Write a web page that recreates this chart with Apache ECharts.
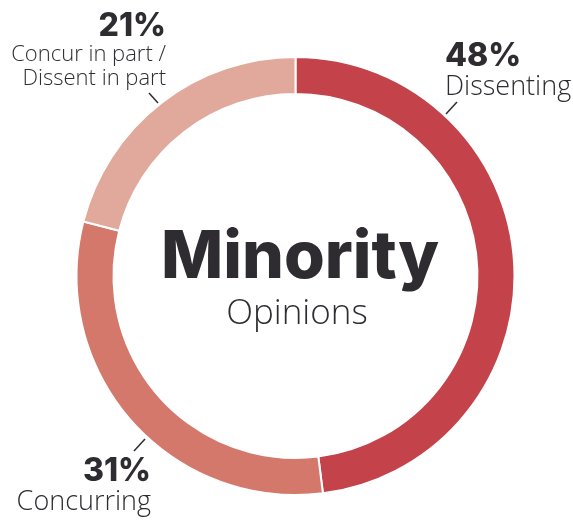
<!DOCTYPE html>
<html>
<head>
<meta charset="utf-8">
<script src="https://cdn.jsdelivr.net/npm/echarts@6/dist/echarts.min.js"></script>
<style>
  html, body { margin: 0; padding: 0; background: #fff; }
  #chart { width: 573px; height: 520px; }
</style>
</head>
<body>
<div id="chart"></div>
<script>
// Share of minority opinions by type (percent)
const categories = ['Dissenting', 'Concurring', 'Concur in part /\nDissent in part'];
const shares = [48, 31, 21];
const sliceColors = ['#C4424A', '#D4786C', '#E0A99B'];

const TEXT = '#2E2C30';
const BOLD_FONT = 'Inter';
const LIGHT_FONT = 'Open Sans';

// Where each callout sits: text anchor and the short leader stroke
const callouts = [
  { x: 445, y: 39, align: 'left',  line: [[446, 114], [457, 102]] },
  { x: 151, y: 454, align: 'right', line: [[134, 451], [145, 439]] },
  { x: 166, y: 9,  align: 'right', line: [[149, 93], [158, 103]] }
];

const chart = echarts.init(document.getElementById('chart'), null, { renderer: 'canvas' });

const data = categories.map((name, i) => ({
  name: name,
  value: shares[i],
  itemStyle: { color: sliceColors[i] },
  label: {
    formatter: (p) => '{pct|' + p.value + '%}\n{' + (i === 2 ? 'small' : 'name') + '|' + p.name + '}'
  }
}));

chart.setOption({
  animation: false,
  title: [{
    text: 'Minority',
    left: 300,
    top: 222,
    textAlign: 'center',
    padding: 0,
    textStyle: { fontFamily: BOLD_FONT, fontWeight: 800, fontSize: 66, color: TEXT, lineHeight: 72 }
  }, {
    text: 'Opinions',
    left: 297,
    top: 295,
    textAlign: 'center',
    padding: 0,
    textStyle: { fontFamily: LIGHT_FONT, fontWeight: 300, fontSize: 35, color: TEXT, lineHeight: 38 }
  }],
  series: [{
    type: 'pie',
    center: [295.5, 276],
    radius: [182, 219],
    startAngle: 90,
    clockwise: true,
    avoidLabelOverlap: false,
    itemStyle: { borderColor: '#fff', borderWidth: 2 },
    label: {
      show: true,
      position: 'outside',
      rich: {
        pct: { fontFamily: BOLD_FONT, fontWeight: 800, fontSize: 32, color: TEXT, lineHeight: 34 },
        name: { fontFamily: LIGHT_FONT, fontWeight: 300, fontSize: 27, color: TEXT, lineHeight: 28 },
        small: { fontFamily: LIGHT_FONT, fontWeight: 300, fontSize: 22, color: TEXT, lineHeight: 24 }
      }
    },
    labelLine: { show: true, lineStyle: { color: TEXT, width: 1.5 } },
    labelLayout: (params) => {
      const c = callouts[params.dataIndex];
      return {
        x: c.x,
        y: c.y,
        align: c.align,
        verticalAlign: 'top',
        labelLinePoints: [c.line[0], c.line[1], c.line[1]]
      };
    },
    data: data
  }]
});
</script>
</body>
</html>
